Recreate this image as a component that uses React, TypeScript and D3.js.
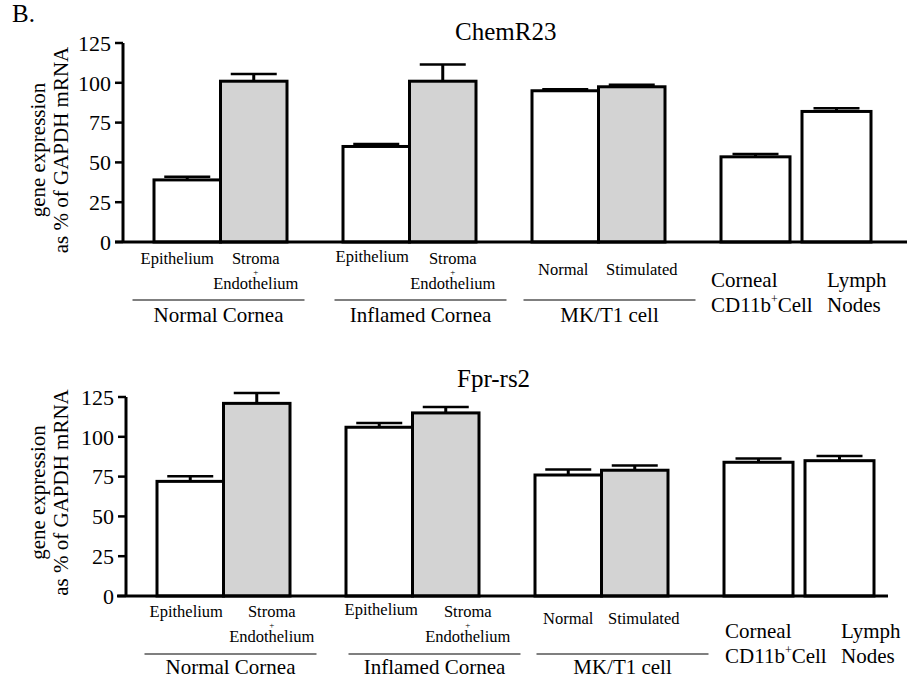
import React from "react";
import * as d3 from "d3";

const groups = ["Normal Cornea", "Inflamed Cornea", "MK/T1 cell", "Other"];
const barGroup = [0, 0, 1, 1, 2, 2, 3, 3];
const categories = [
  "Epithelium",
  "Stroma + Endothelium",
  "Epithelium",
  "Stroma + Endothelium",
  "Normal",
  "Stimulated",
  "Corneal CD11b+Cell",
  "Lymph Nodes",
];
const shaded = [false, true, false, true, false, true, false, false];
const chemR23Values = [39, 101, 60, 101, 95, 97.5, 53.5, 82];
const chemR23Errors = [2, 4.5, 1.5, 10.5, 1, 1.2, 1.8, 2];
const fprValues = [72, 121, 106, 115, 76, 79, 84, 85];
const fprErrors = [3.2, 6.5, 2.7, 3.7, 3.4, 3, 2.3, 2.9];
const yTicks = [0, 25, 50, 75, 100, 125];

const FONT = "'Liberation Serif', 'DejaVu Serif', serif";

type PanelCfg = {
  title: string;
  values: number[];
  errors: number[];
  yTop: number;
  yBottom: number;
  axisX: number;
  xLineStart: number;
  xLineEnd: number;
  barStart: number;
  titleX: number;
  titleY: number;
  yLabelCenter: number;
  subDx: number[];
  subDyCornea: number;
  subDyMK: number;
  lineOffsets: number[];
  otherDx: number[];
  otherDy: number;
  groupLabelDy: number;
};

const panels: PanelCfg[] = [
  {
    title: "ChemR23",
    values: chemR23Values,
    errors: chemR23Errors,
    yTop: 43,
    yBottom: 242,
    axisX: 123,
    xLineStart: 115,
    xLineEnd: 907,
    barStart: 154,
    titleX: 455,
    titleY: 40,
    yLabelCenter: 150,
    subDx: [-10, 2, -4, 10, -2, 10],
    subDyCornea: 22,
    subDyMK: 33,
    lineOffsets: [-2, 11, 11],
    otherDx: [-10, 25],
    otherDy: 45,
    groupLabelDy: 80,
  },
  {
    title: "Fpr-rs2",
    values: fprValues,
    errors: fprErrors,
    yTop: 397,
    yBottom: 596,
    axisX: 126,
    xLineStart: 117,
    xLineEnd: 888,
    barStart: 157,
    titleX: 457,
    titleY: 387,
    yLabelCenter: 492.5,
    subDx: [-4, 15, 2, 22, 0, 9],
    subDyCornea: 21,
    subDyMK: 28,
    lineOffsets: [7, 22, 21],
    otherDx: [1, 36],
    otherDy: 42,
    groupLabelDy: 78,
  },
];

function Panel({ cfg }: { cfg: PanelCfg }) {
  const y = d3.scaleLinear().domain([0, 125]).range([cfg.yBottom, cfg.yTop]);
  const outer = d3
    .scaleBand<number>()
    .domain([0, 1, 2, 3])
    .range([cfg.barStart, cfg.barStart + 700])
    .paddingInner(56 / 189)
    .paddingOuter(0);
  const gw = outer.bandwidth();
  const inner = (g: number) => {
    const gx = outer(g)!;
    if (g === 3) {
      return d3.scaleBand<number>().domain([0, 1]).range([gx, gx + 150]).paddingInner(12 / 81).paddingOuter(0);
    }
    return d3.scaleBand<number>().domain([0, 1]).range([gx, gx + gw]).paddingInner(0).paddingOuter(0);
  };
  const bars = cfg.values.map((v, i) => {
    const g = barGroup[i];
    const idx = i % 2;
    const sc = inner(g);
    const x = sc(idx)!;
    const w = sc.bandwidth();
    return { x, w, v, e: cfg.errors[i], i, g };
  });
  const capW = 46;
  const base = cfg.yBottom;

  return (
    <g>
      <text x={cfg.titleX} y={cfg.titleY} fontSize={25} fontFamily={FONT}>
        {cfg.title}
      </text>
      <g transform={`translate(45, ${cfg.yLabelCenter}) rotate(-90)`}>
        <text x={0} y={0} textAnchor="middle" fontSize={21} fontFamily={FONT}>
          gene expression
        </text>
        <text x={0} y={23} textAnchor="middle" fontSize={21} fontFamily={FONT}>
          as % of GAPDH mRNA
        </text>
      </g>
      {bars.map((b) => (
        <g key={b.i}>
          <line
            x1={b.x + b.w / 2}
            x2={b.x + b.w / 2}
            y1={y(b.v)}
            y2={y(b.v + b.e)}
            stroke="#000"
            strokeWidth={3}
          />
          <line
            x1={b.x + b.w / 2 - capW / 2}
            x2={b.x + b.w / 2 + capW / 2}
            y1={y(b.v + b.e)}
            y2={y(b.v + b.e)}
            stroke="#000"
            strokeWidth={2.5}
          />
          <rect
            x={b.x}
            y={y(b.v)}
            width={b.w}
            height={base - y(b.v)}
            fill={shaded[b.i] ? "#d3d3d3" : "#ffffff"}
            stroke="#000"
            strokeWidth={3}
          />
        </g>
      ))}
      <line x1={cfg.axisX} x2={cfg.axisX} y1={cfg.yTop} y2={cfg.yBottom} stroke="#000" strokeWidth={3} />
      {yTicks.map((t) => (
        <g key={t}>
          <line x1={cfg.axisX - 8} x2={cfg.axisX} y1={y(t)} y2={y(t)} stroke="#000" strokeWidth={2.5} />
          <text
            x={cfg.axisX - 12}
            y={y(t)}
            dy="0.35em"
            textAnchor="end"
            fontSize={22}
            fontFamily={FONT}
          >
            {t}
          </text>
        </g>
      ))}
      <line x1={cfg.xLineStart} x2={cfg.xLineEnd} y1={base} y2={base} stroke="#000" strokeWidth={3} />
      {bars.slice(0, 6).map((b) => {
        const cx = b.x + b.w / 2 + cfg.subDx[b.i];
        const isMK = b.g === 2;
        const yy = base + (isMK ? cfg.subDyMK : cfg.subDyCornea) + (b.g === 1 && b.i % 2 === 0 ? -2 : 0);
        const label = categories[b.i];
        if (label.includes("+")) {
          const [a, c] = label.split(" + ");
          return (
            <g key={"l" + b.i}>
              <text x={cx} y={yy} textAnchor="middle" fontSize={16.5} fontFamily={FONT}>
                {a}
              </text>
              <text x={cx} y={yy + 11} textAnchor="middle" fontSize={9} fontFamily={FONT}>
                +
              </text>
              <text x={cx} y={yy + 25} textAnchor="middle" fontSize={16.5} fontFamily={FONT}>
                {c}
              </text>
            </g>
          );
        }
        return (
          <text key={"l" + b.i} x={cx} y={yy} textAnchor="middle" fontSize={16.5} fontFamily={FONT}>
            {label}
          </text>
        );
      })}
      {[0, 1, 2].map((g) => {
        const c = outer(g)! + gw / 2 + cfg.lineOffsets[g];
        return (
          <g key={"g" + g}>
            <line x1={c - 86} x2={c + 86} y1={base + 58} y2={base + 58} stroke="#555" strokeWidth={1.5} />
            <text x={c} y={base + cfg.groupLabelDy} textAnchor="middle" fontSize={21} fontFamily={FONT}>
              {groups[g]}
            </text>
          </g>
        );
      })}
      {bars.slice(6).map((b, k) => {
        const label = categories[b.i];
        const x = b.x + cfg.otherDx[k];
        const yy = base + cfg.otherDy;
        if (k === 0) {
          const parts = label.split(" ");
          return (
            <g key={"o" + k}>
              <text x={x} y={yy} fontSize={21} fontFamily={FONT}>
                {parts[0]}
              </text>
              <text x={x} y={yy + 25} fontSize={21} fontFamily={FONT}>
                CD11b
                <tspan fontSize={12} dy={-9}>
                  +
                </tspan>
                <tspan dy={9}>Cell</tspan>
              </text>
            </g>
          );
        }
        const parts = label.split(" ");
        return (
          <g key={"o" + k}>
            <text x={x} y={yy} fontSize={21} fontFamily={FONT}>
              {parts[0]}
            </text>
            <text x={x} y={yy + 25} fontSize={21} fontFamily={FONT}>
              {parts[1]}
            </text>
          </g>
        );
      })}
    </g>
  );
}

export default function App() {
  return (
    <div>
      <style>{"body{margin:0;background:#fff}"}</style>
      <svg width={913} height={679} viewBox="0 0 913 679" style={{ display: "block", background: "#fff" }}>
        <text x={12} y={22} fontSize={25} fontFamily={FONT}>
          B.
        </text>
        {panels.map((p) => (
          <Panel key={p.title} cfg={p} />
        ))}
      </svg>
    </div>
  );
}
